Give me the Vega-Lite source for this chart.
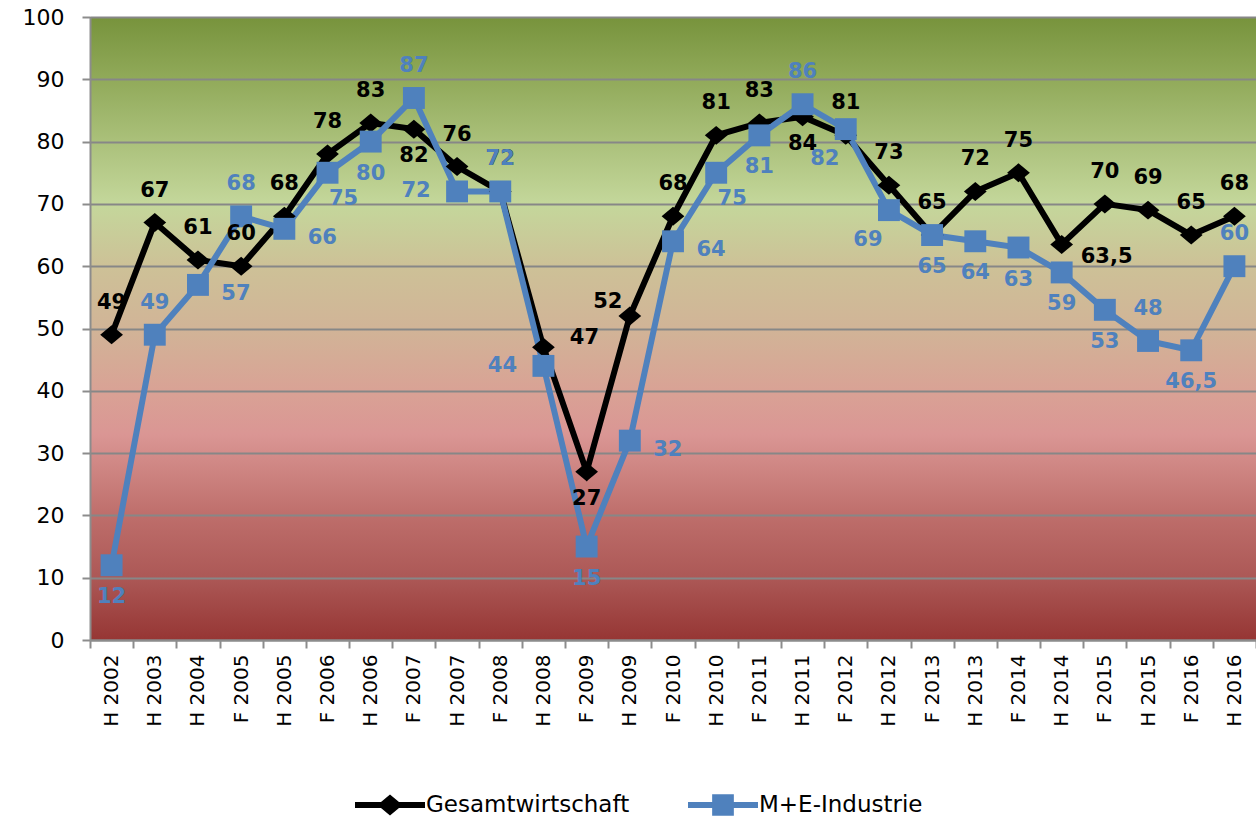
{
  "$schema": "https://vega.github.io/schema/vega-lite/v6.json",
  "width": 1166,
  "height": 623,
  "autosize": {"type": "none"},
  "padding": {"left": 90, "top": 17, "right": 0, "bottom": 182},
  "background": "white",
  "config": {
    "view": {"stroke": null},
    "locale": {"number": {"decimal": ",", "thousands": ".", "grouping": [3], "currency": ["", " €"]}},
    "font": "DejaVu Sans"
  },
  "view": {
    "fill": {
      "gradient": "linear", "x1": 0, "y1": 0, "x2": 0, "y2": 1,
      "stops": [
        {"offset": 0, "color": "#77933C"},
        {"offset": 0.1, "color": "#91AA5A"},
        {"offset": 0.3, "color": "#C4D79B"},
        {"offset": 0.4, "color": "#CDC197"},
        {"offset": 0.5, "color": "#D1B497"},
        {"offset": 0.6, "color": "#D9A295"},
        {"offset": 0.67, "color": "#DA9694"},
        {"offset": 0.8, "color": "#BE6E6B"},
        {"offset": 0.9, "color": "#AC5856"},
        {"offset": 1, "color": "#963634"}
      ]
    }
  },
  "data": {"values": [
    {"p": "H 2002", "s": "Gesamtwirtschaft", "v": 49}, {"p": "H 2002", "s": "M+E-Industrie", "v": 12},
    {"p": "H 2003", "s": "Gesamtwirtschaft", "v": 67}, {"p": "H 2003", "s": "M+E-Industrie", "v": 49},
    {"p": "H 2004", "s": "Gesamtwirtschaft", "v": 61}, {"p": "H 2004", "s": "M+E-Industrie", "v": 57},
    {"p": "F 2005", "s": "Gesamtwirtschaft", "v": 60}, {"p": "F 2005", "s": "M+E-Industrie", "v": 68},
    {"p": "H 2005", "s": "Gesamtwirtschaft", "v": 68}, {"p": "H 2005", "s": "M+E-Industrie", "v": 66},
    {"p": "F 2006", "s": "Gesamtwirtschaft", "v": 78}, {"p": "F 2006", "s": "M+E-Industrie", "v": 75},
    {"p": "H 2006", "s": "Gesamtwirtschaft", "v": 83}, {"p": "H 2006", "s": "M+E-Industrie", "v": 80},
    {"p": "F 2007", "s": "Gesamtwirtschaft", "v": 82}, {"p": "F 2007", "s": "M+E-Industrie", "v": 87},
    {"p": "H 2007", "s": "Gesamtwirtschaft", "v": 76}, {"p": "H 2007", "s": "M+E-Industrie", "v": 72},
    {"p": "F 2008", "s": "Gesamtwirtschaft", "v": 72}, {"p": "F 2008", "s": "M+E-Industrie", "v": 72},
    {"p": "H 2008", "s": "Gesamtwirtschaft", "v": 47}, {"p": "H 2008", "s": "M+E-Industrie", "v": 44},
    {"p": "F 2009", "s": "Gesamtwirtschaft", "v": 27}, {"p": "F 2009", "s": "M+E-Industrie", "v": 15},
    {"p": "H 2009", "s": "Gesamtwirtschaft", "v": 52}, {"p": "H 2009", "s": "M+E-Industrie", "v": 32},
    {"p": "F 2010", "s": "Gesamtwirtschaft", "v": 68}, {"p": "F 2010", "s": "M+E-Industrie", "v": 64},
    {"p": "H 2010", "s": "Gesamtwirtschaft", "v": 81}, {"p": "H 2010", "s": "M+E-Industrie", "v": 75},
    {"p": "F 2011", "s": "Gesamtwirtschaft", "v": 83}, {"p": "F 2011", "s": "M+E-Industrie", "v": 81},
    {"p": "H 2011", "s": "Gesamtwirtschaft", "v": 84}, {"p": "H 2011", "s": "M+E-Industrie", "v": 86},
    {"p": "F 2012", "s": "Gesamtwirtschaft", "v": 81}, {"p": "F 2012", "s": "M+E-Industrie", "v": 82},
    {"p": "H 2012", "s": "Gesamtwirtschaft", "v": 73}, {"p": "H 2012", "s": "M+E-Industrie", "v": 69},
    {"p": "F 2013", "s": "Gesamtwirtschaft", "v": 65}, {"p": "F 2013", "s": "M+E-Industrie", "v": 65},
    {"p": "H 2013", "s": "Gesamtwirtschaft", "v": 72}, {"p": "H 2013", "s": "M+E-Industrie", "v": 64},
    {"p": "F 2014", "s": "Gesamtwirtschaft", "v": 75}, {"p": "F 2014", "s": "M+E-Industrie", "v": 63},
    {"p": "H 2014", "s": "Gesamtwirtschaft", "v": 63.5}, {"p": "H 2014", "s": "M+E-Industrie", "v": 59},
    {"p": "F 2015", "s": "Gesamtwirtschaft", "v": 70}, {"p": "F 2015", "s": "M+E-Industrie", "v": 53},
    {"p": "H 2015", "s": "Gesamtwirtschaft", "v": 69}, {"p": "H 2015", "s": "M+E-Industrie", "v": 48},
    {"p": "F 2016", "s": "Gesamtwirtschaft", "v": 65}, {"p": "F 2016", "s": "M+E-Industrie", "v": 46.5},
    {"p": "H 2016", "s": "Gesamtwirtschaft", "v": 68}, {"p": "H 2016", "s": "M+E-Industrie", "v": 60}
  ]},
  "encoding": {
    "x": {
      "field": "p", "type": "nominal", "sort": null, "title": null,
      "scale": {"type": "band", "paddingInner": 0, "paddingOuter": 0},
      "axis": {
        "labelAngle": -90, "labelFont": "DejaVu Sans", "labelFontSize": 20, "labelColor": "black",
        "labelPadding": 6, "tickBand": "extent", "tickSize": 8, "tickColor": "#8C8C8C", "tickWidth": 2,
        "domainColor": "#8C8C8C", "domainWidth": 2, "grid": false, "labelBaseline": "middle", "labelAlign": "right"
      }
    },
    "y": {
      "field": "v", "type": "quantitative", "title": null,
      "scale": {"domain": [0, 100], "nice": false, "zero": true},
      "axis": {
        "values": [0, 10, 20, 30, 40, 50, 60, 70, 80, 90, 100],
        "labelFont": "DejaVu Sans", "labelFontSize": 22, "labelColor": "black", "labelPadding": 18,
        "tickSize": 8, "tickColor": "#8C8C8C", "tickWidth": 2,
        "domainColor": "#8C8C8C", "domainWidth": 2,
        "grid": true, "gridColor": "#878787", "gridWidth": 2
      }
    }
  },
  "layer": [
    {
      "mark": {"type": "line", "strokeWidth": 6, "strokeJoin": "miter"},
      "encoding": {
        "color": {
          "field": "s", "type": "nominal",
          "scale": {"domain": ["Gesamtwirtschaft", "M+E-Industrie"], "range": ["#000000", "#4F81BD"]},
          "legend": {
            "title": null, "orient": "none", "direction": "horizontal",
            "legendX": 265, "legendY": 753, "padding": 0,
            "symbolSize": 4900, "symbolStrokeWidth": 0, "labelFont": "DejaVu Sans", "labelFontSize": 23,
            "labelColor": "black", "labelOffset": 1, "columnPadding": 58, "labelLimit": 0,
            "encode": {
              "symbols": {
                "update": {
                  "shape": {"signal": "datum.value === 'Gesamtwirtschaft' ? 'M-1,-0.085L1,-0.085L1,0.085L-1,0.085Z M0,-0.3L0.36,0L0,0.3L-0.36,0Z' : 'M-1,-0.085L1,-0.085L1,0.085L-1,0.085Z M-0.31,-0.31L0.31,-0.31L0.31,0.31L-0.31,0.31Z'"},
                  "fill": {"signal": "datum.value === 'Gesamtwirtschaft' ? '#000000' : '#4F81BD'"},
                  "stroke": {"value": "transparent"},
                  "strokeWidth": {"value": 0},
                  "opacity": {"value": 1}
                }
              }
            }
          }
        }
      }
    },
    {
      "transform": [{"filter": {"field": "s", "equal": "Gesamtwirtschaft"}}],
      "mark": {"type": "point", "shape": "M-1.2,0L0,-1L1.2,0L0,1Z", "size": 360, "filled": true, "color": "black", "opacity": 1}
    },
    {
      "transform": [{"filter": {"field": "s", "equal": "M+E-Industrie"}}],
      "mark": {"type": "point", "shape": "square", "size": 480, "filled": true, "color": "#4F81BD", "opacity": 1}
    },
    {
      "transform": [{"filter": {"and": [{"field": "s", "equal": "Gesamtwirtschaft"}, {"not": {"field": "p", "oneOf": ["F 2007", "F 2009", "H 2011", "H 2008", "H 2014", "H 2009"]}}]}}],
      "mark": {"type": "text", "font": "DejaVu Sans", "fontWeight": "bold", "fontSize": 21, "color": "black", "dy": -32},
      "encoding": {"text": {"field": "v", "type": "quantitative", "format": "~r"}}
    },
    {
      "transform": [{"filter": {"and": [{"field": "s", "equal": "Gesamtwirtschaft"}, {"field": "p", "oneOf": ["F 2007", "F 2009", "H 2011"]}]}}],
      "mark": {"type": "text", "font": "DejaVu Sans", "fontWeight": "bold", "fontSize": 21, "color": "black", "dy": 27},
      "encoding": {"text": {"field": "v", "type": "quantitative", "format": "~r"}}
    },
    {
      "transform": [{"filter": {"and": [{"field": "s", "equal": "Gesamtwirtschaft"}, {"field": "p", "oneOf": ["H 2008"]}]}}],
      "mark": {"type": "text", "font": "DejaVu Sans", "fontWeight": "bold", "fontSize": 21, "color": "black", "dx": 41, "dy": -9},
      "encoding": {"text": {"field": "v", "type": "quantitative", "format": "~r"}}
    },
    {
      "transform": [{"filter": {"and": [{"field": "s", "equal": "Gesamtwirtschaft"}, {"field": "p", "oneOf": ["H 2014"]}]}}],
      "mark": {"type": "text", "font": "DejaVu Sans", "fontWeight": "bold", "fontSize": 21, "color": "black", "dx": 45, "dy": 13},
      "encoding": {"text": {"field": "v", "type": "quantitative", "format": "~r"}}
    },
    {
      "transform": [{"filter": {"and": [{"field": "s", "equal": "Gesamtwirtschaft"}, {"field": "p", "oneOf": ["H 2009"]}]}}],
      "mark": {"type": "text", "font": "DejaVu Sans", "fontWeight": "bold", "fontSize": 21, "color": "black", "dx": -22, "dy": -14},
      "encoding": {"text": {"field": "v", "type": "quantitative", "format": "~r"}}
    },
    {
      "transform": [{"filter": {"and": [{"field": "s", "equal": "M+E-Industrie"}, {"field": "p", "oneOf": ["H 2003", "F 2005", "F 2007", "F 2008", "H 2011", "H 2015", "H 2016"]}]}}],
      "mark": {"type": "text", "font": "DejaVu Sans", "fontWeight": "bold", "fontSize": 21, "color": "#4F81BD", "dy": -32},
      "encoding": {"text": {"field": "v", "type": "quantitative", "format": "~r"}}
    },
    {
      "transform": [{"filter": {"and": [{"field": "s", "equal": "M+E-Industrie"}, {"field": "p", "oneOf": ["H 2004", "H 2005", "H 2009", "F 2010"]}]}}],
      "mark": {"type": "text", "font": "DejaVu Sans", "fontWeight": "bold", "fontSize": 21, "color": "#4F81BD", "dx": 38, "dy": 9},
      "encoding": {"text": {"field": "v", "type": "quantitative", "format": "~r"}}
    },
    {
      "transform": [{"filter": {"and": [{"field": "s", "equal": "M+E-Industrie"}, {"field": "p", "oneOf": ["F 2006", "H 2010"]}]}}],
      "mark": {"type": "text", "font": "DejaVu Sans", "fontWeight": "bold", "fontSize": 21, "color": "#4F81BD", "dx": 16, "dy": 26},
      "encoding": {"text": {"field": "v", "type": "quantitative", "format": "~r"}}
    },
    {
      "transform": [{"filter": {"and": [{"field": "s", "equal": "M+E-Industrie"}, {"field": "p", "oneOf": ["H 2007", "H 2008"]}]}}],
      "mark": {"type": "text", "font": "DejaVu Sans", "fontWeight": "bold", "fontSize": 21, "color": "#4F81BD", "dx": -41, "dy": 0},
      "encoding": {"text": {"field": "v", "type": "quantitative", "format": "~r"}}
    },
    {
      "transform": [{"filter": {"and": [{"field": "s", "equal": "M+E-Industrie"}, {"field": "p", "oneOf": ["F 2012", "H 2012"]}]}}],
      "mark": {"type": "text", "font": "DejaVu Sans", "fontWeight": "bold", "fontSize": 21, "color": "#4F81BD", "dx": -21, "dy": 30},
      "encoding": {"text": {"field": "v", "type": "quantitative", "format": "~r"}}
    },
    {
      "transform": [{"filter": {"and": [{"field": "s", "equal": "M+E-Industrie"}, {"not": {"field": "p", "oneOf": ["H 2003", "F 2005", "F 2007", "F 2008", "H 2011", "H 2015", "H 2016", "H 2004", "H 2005", "H 2009", "F 2010", "F 2006", "H 2010", "H 2007", "H 2008", "F 2012", "H 2012"]}}]}}],
      "mark": {"type": "text", "font": "DejaVu Sans", "fontWeight": "bold", "fontSize": 21, "color": "#4F81BD", "dy": 32},
      "encoding": {"text": {"field": "v", "type": "quantitative", "format": "~r"}}
    }
  ]
}
